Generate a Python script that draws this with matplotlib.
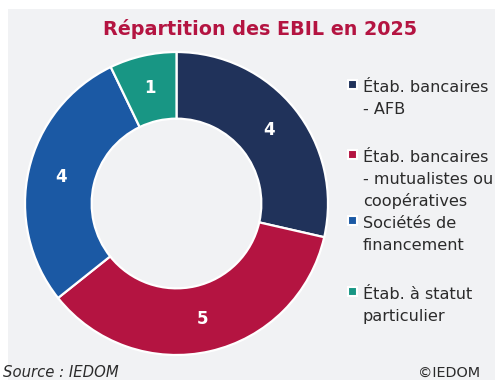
import matplotlib
matplotlib.use("Agg")
import matplotlib.pyplot as plt
from matplotlib.patches import Rectangle

# Répartition des EBIL (nombre d'établissements) en 2025
categories = [
    "Étab. bancaires\n- AFB",
    "Étab. bancaires\n- mutualistes ou\ncoopératives",
    "Sociétés de\nfinancement",
    "Étab. à statut\nparticulier",
]
counts = [4, 5, 4, 1]
colors = ["#20325A", "#B41441", "#1B59A4", "#189684"]

title = "Répartition des EBIL en 2025"
source = "Source : IEDOM"
copyright_txt = "©IEDOM"

W, H = 495, 380
BG = "#F1F2F4"
TXT = "#2B2B2B"


def fx(x):
    return x / W


def fy(y):
    return 1 - y / H


fig = plt.figure(figsize=(W / 100, H / 100), dpi=100, facecolor="white")

# grey panel behind everything
fig.patches.append(Rectangle((fx(8), 0), 1 - fx(8), fy(9), transform=fig.transFigure,
                             facecolor=BG, edgecolor="none", zorder=-5))

fig.text(fx(260), fy(35), title, ha="center", va="baseline", fontsize=13.8,
         fontweight="bold", color="#B41441")

# donut
cx, cy, r = 176.5, 203.5, 151.5
ax = fig.add_axes([fx(cx - r), fy(cy + r), 2 * r / W, 2 * r / H])
ax.set_zorder(2)
ax.patch.set_visible(False)
total = sum(counts)
wedges, _, autotexts = ax.pie(
    counts, colors=colors, startangle=90, counterclock=False,
    wedgeprops=dict(width=0.44, edgecolor="white", linewidth=1.6),
    autopct=lambda p: f"{round(p * total / 100)}", pctdistance=0.78,
    textprops=dict(color="white", fontsize=12, fontweight="bold"),
)
for w in wedges:
    w.set_clip_on(False)
for t in autotexts:
    t.set_va("center")
ax.set_xlim(-1, 1)
ax.set_ylim(-1, 1)
ax.set_aspect("equal")
ax.axis("off")

# legend, drawn by hand
entry_top = [92, 162, 228, 299]
line_step = 22
for label, col, y0 in zip(categories, colors, entry_top):
    fig.patches.append(Rectangle((fx(347.5), fy(y0 - 3.5)), 9 / W, 9 / H,
                                 transform=fig.transFigure, facecolor=col,
                                 edgecolor="white", linewidth=1.5, zorder=3))
    for i, line in enumerate(label.split("\n")):
        fig.text(fx(363), fy(y0 + i * line_step), line, ha="left", va="baseline",
                 fontsize=11.6, color=TXT)

fig.text(fx(3), fy(377), source, ha="left", va="baseline", fontsize=10.7,
         style="italic", color=TXT)
fig.text(fx(480), fy(377), copyright_txt, ha="right", va="baseline", fontsize=10.4,
         color=TXT)

fig.savefig("out.png", dpi=100, facecolor=fig.get_facecolor())
